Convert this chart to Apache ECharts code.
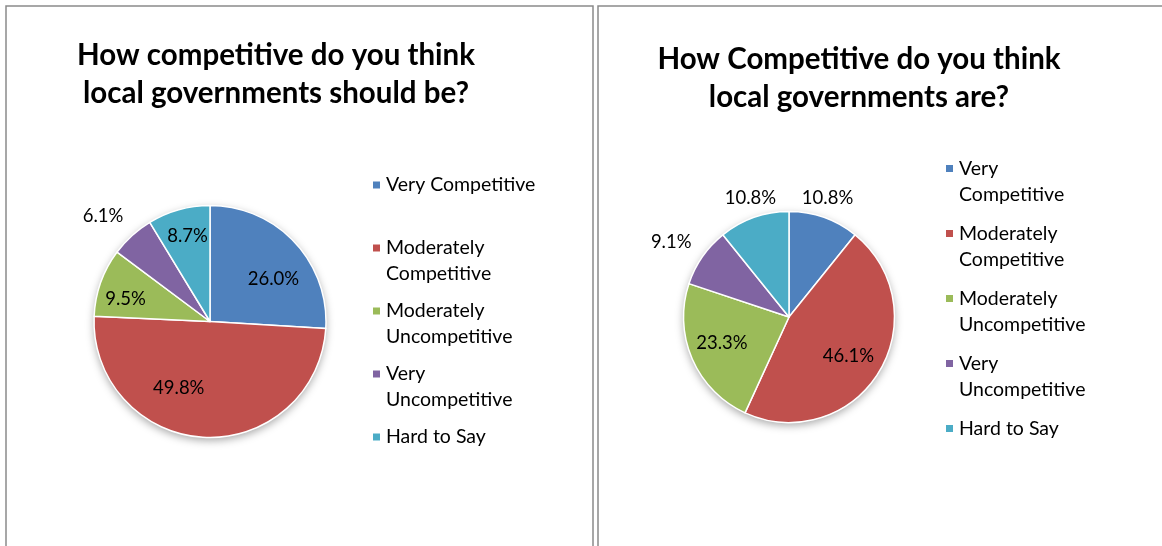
<!DOCTYPE html>
<html><head><meta charset="utf-8">
<script src="https://cdn.jsdelivr.net/npm/echarts@6/dist/echarts.min.js"></script>
<style>html,body{margin:0;padding:0;background:#fff}#c{width:1162px;height:546px}</style>
</head><body><div id="c"></div>
<script>
const categories = ['Very Competitive','Moderately Competitive','Moderately Uncompetitive','Very Uncompetitive','Hard to Say'];
const shouldBeValues = [26.0, 49.8, 9.5, 6.1, 8.7];
const areValues = [10.8, 46.1, 23.3, 9.1, 10.8];
const leftLegendLabels = ['Very Competitive','Moderately\nCompetitive','Moderately\nUncompetitive','Very\nUncompetitive','Hard to Say'];
const rightLegendLabels = ['Very\nCompetitive','Moderately\nCompetitive','Moderately\nUncompetitive','Very\nUncompetitive','Hard to Say'];
const leftTitle = 'How competitive do you think\nlocal governments should be?';
const rightTitle = 'How Competitive do you think\nlocal governments are?';

const colors = ['#4F81BD','#C0504D','#9BBB59','#8064A2','#4BACC6'];
const FONT = 'Lato, "Open Sans", sans-serif';
// label nudges (styling only) from default inside position
const leftNudge = [[19,-1],[-28,6],[-27,-2],[-66,-60],[-6,-27]];
const rightNudge = [[20,-66],[12,10],[-16,4],[-72,-43],[-20,-66]];

function pieData(vals){ return categories.map((n,i)=>({name:n, value:vals[i], itemStyle:{color:colors[i]}})); }
function legendFmt(labels){
  return function(name){
    const l = labels[categories.indexOf(name)];
    return '\n' + l + (l.indexOf('\n') < 0 ? '\n' : '');
  };
}
function pieSeries(vals, center, radius, nudge){
  return {
    type:'pie', center:center, radius:radius, startAngle:90, clockwise:true,
    avoidLabelOverlap:false, silent:true, z:3,
    data: pieData(vals),
    itemStyle:{borderColor:'#fff', borderWidth:1.5},
    label:{show:true, position:'inside', color:'#000', fontFamily:FONT, fontSize:18.5,
      formatter:p=>p.value.toFixed(1)+'%'},
    labelLine:{show:false},
    labelLayout:function(p){ const n = nudge[p.dataIndex]; return {dx:n[0], dy:n[1]}; }
  };
}
function shadowSeries(center, radius){
  return {type:'pie', center:center, radius:radius, silent:true, z:2,
    data:[{value:1, name:'_shadow'}],
    itemStyle:{color:'#fff', shadowBlur:8, shadowOffsetY:3, shadowColor:'rgba(0,0,0,0.35)'},
    label:{show:false}, labelLine:{show:false}};
}

const chart = echarts.init(document.getElementById('c'), null, {renderer:'canvas'});
chart.setOption({
  animation:false,
  backgroundColor:'#fff',
  graphic:[
    {type:'rect', silent:true, shape:{x:6,y:6,width:587,height:600}, style:{fill:'none', stroke:'#8a8a8a', lineWidth:1.5}},
    {type:'rect', silent:true, shape:{x:598,y:6,width:600,height:600}, style:{fill:'none', stroke:'#8a8a8a', lineWidth:1.5}}
  ],
  title:[
    {text:leftTitle, left:276, top:37, textAlign:'center', padding:0,
     textStyle:{fontFamily:FONT, fontSize:29.5, fontWeight:'bold', color:'#000', lineHeight:37.5}},
    {text:rightTitle, left:859, top:40, textAlign:'center', padding:0,
     textStyle:{fontFamily:FONT, fontSize:29.5, fontWeight:'bold', color:'#000', lineHeight:38}}
  ],
  legend:[
    {orient:'vertical', left:371, top:146, padding:0, itemGap:-15, itemWidth:9, itemHeight:9,
     icon:'rect', selectedMode:false, data:categories, formatter:legendFmt(leftLegendLabels),
     textStyle:{fontFamily:FONT, fontSize:19.5, lineHeight:26, color:'#000'}},
    {orient:'vertical', left:944, top:129.5, padding:0, itemGap:-13, itemWidth:9, itemHeight:9,
     icon:'rect', selectedMode:false, data:categories, formatter:legendFmt(rightLegendLabels),
     textStyle:{fontFamily:FONT, fontSize:19.5, lineHeight:26, color:'#000'}}
  ],
  series:[
    shadowSeries([210,321.5], 116),
    pieSeries(shouldBeValues, [210,321.5], 116, leftNudge),
    shadowSeries([789,317], 105.5),
    pieSeries(areValues, [789,317], 105.5, rightNudge)
  ]
});
</script></body></html>
